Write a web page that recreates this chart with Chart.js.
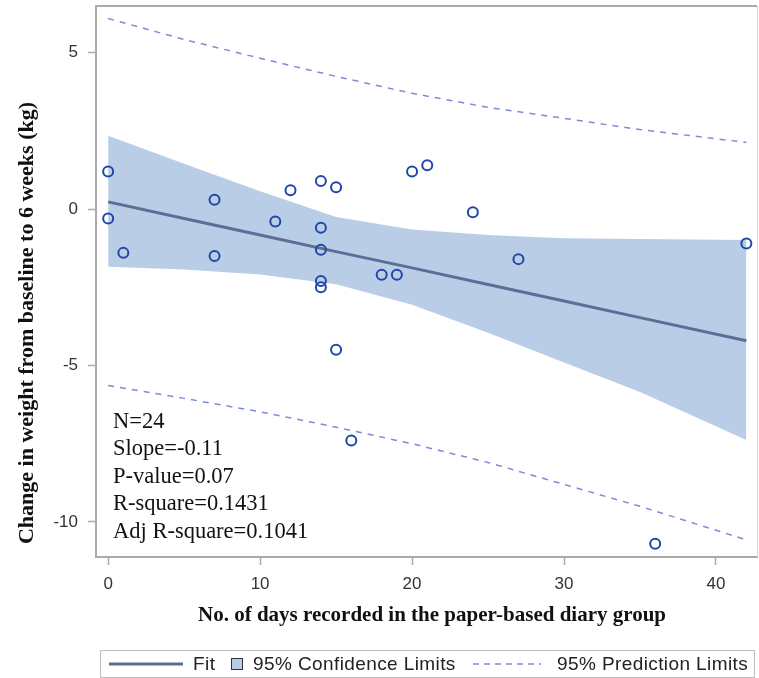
<!DOCTYPE html>
<html>
<head>
<meta charset="utf-8">
<script src="https://cdn.jsdelivr.net/npm/chart.js@4"></script>
<style>
  html, body { margin: 0; padding: 0; background: #fff; overflow: hidden; }
  canvas { display: block; }
</style>
</head>
<body>
<canvas id="myChart" width="759" height="678"></canvas>
<script>
// observed points
const days = [0, 0, 1, 7, 7, 11, 12, 14, 14, 14, 14, 14, 15, 15, 16, 18, 19, 20, 21, 24, 27, 36, 42];
const weightChange = [1.2, -0.3, -1.4, 0.3, -1.5, -0.4, 0.6, 0.9, -0.6, -1.3, -2.3, -2.5, 0.7, -4.5, -7.4, -2.1, -2.1, 1.2, 1.4, -0.1, -1.6, -10.7, -1.1];

// fit and limits
const curveX = [0, 5, 10, 15, 20, 25, 30, 35, 42];
const fitY = [0.23, -0.30, -0.83, -1.36, -1.88, -2.41, -2.94, -3.47, -4.21];
const clUpper = [2.34, 1.45, 0.57, -0.25, -0.65, -0.83, -0.93, -0.96, -0.99];
const clLower = [-1.84, -1.93, -2.09, -2.40, -3.06, -3.95, -4.90, -5.85, -7.38];
const plUpper = [6.09, 5.42, 4.82, 4.24, 3.70, 3.25, 2.90, 2.54, 2.13];
const plLower = [-5.64, -6.05, -6.48, -6.97, -7.50, -8.10, -8.80, -9.50, -10.57];

const xTicks = [0, 10, 20, 30, 40];
const yTicks = [-10, -5, 0, 5];

const statsText = ['N=24', 'Slope=-0.11', 'P-value=0.07', 'R-square=0.1431', 'Adj R-square=0.1041'];

const bandColor = 'rgb(185, 206, 230)';
const fitColor = 'rgb(92, 110, 150)';
const predColor = 'rgb(125, 140, 212)';
const markerColor = 'rgb(32, 70, 170)';

const pts = (xs, ys) => xs.map((x, i) => ({ x: x, y: ys[i] }));
const noPad = () => ({ left: 0, top: 0, right: 0, bottom: 0 });

const extras = {
    id: 'extras',
    afterDraw(chart) {
        const c = chart.ctx;
        const a = chart.chartArea;
        c.save();
        // frame top / right
        c.strokeStyle = 'rgb(170,170,170)';
        c.lineWidth = 2;
        c.beginPath();
        c.moveTo(a.left, a.top);
        c.lineTo(a.right, a.top);
        c.stroke();
        c.strokeStyle = 'rgb(215,215,215)';
        c.lineWidth = 1;
        c.beginPath();
        c.moveTo(a.right + 0.5, a.top);
        c.lineTo(a.right + 0.5, a.bottom);
        c.stroke();

        // stats text
        c.fillStyle = '#111';
        c.font = '22.5px "Liberation Serif", "Times New Roman", serif';
        c.textBaseline = 'middle';
        c.textAlign = 'left';
        statsText.forEach((t, i) => c.fillText(t, 113, 422 + i * 27.5));

        // axis titles
        c.font = 'bold 21px "Liberation Serif", "Times New Roman", serif';
        c.textAlign = 'center';
        c.fillText('No. of days recorded in the paper-based diary group', 432, 616);
        c.save();
        c.translate(27, 323);
        c.rotate(-Math.PI / 2);
        c.font = 'bold 22px "Liberation Serif", "Times New Roman", serif';
        c.fillText('Change in weight from baseline to 6 weeks (kg)', 0, 0);
        c.restore();

        // legend
        c.strokeStyle = 'rgb(190,190,190)';
        c.lineWidth = 1;
        c.strokeRect(100.5, 650.5, 654, 27);
        const ly = 664;
        c.strokeStyle = fitColor;
        c.lineWidth = 3;
        c.beginPath(); c.moveTo(109, ly); c.lineTo(183, ly); c.stroke();
        c.fillStyle = bandColor;
        c.fillRect(231, ly - 6, 12, 12);
        c.strokeStyle = '#333';
        c.lineWidth = 1;
        c.strokeRect(231.5, ly - 5.5, 11, 11);
        c.strokeStyle = predColor;
        c.lineWidth = 1.5;
        c.setLineDash([6, 5]);
        c.beginPath(); c.moveTo(473, ly); c.lineTo(541, ly); c.stroke();
        c.setLineDash([]);
        c.fillStyle = '#222';
        c.font = '19px "Liberation Sans", Arial, sans-serif';
        c.letterSpacing = '0.4px';
        c.textAlign = 'left';
        c.fillText('Fit', 193, ly + 1);
        c.fillText('95% Confidence Limits', 253, ly + 1);
        c.fillText('95% Prediction Limits', 557, ly + 1);
        c.restore();
    }
};

new Chart(document.getElementById('myChart'), {
    type: 'scatter',
    data: {
        datasets: [
            {
                label: 'Observed',
                data: pts(days, weightChange),
                pointStyle: 'circle',
                pointRadius: 5,
                pointBorderWidth: 2,
                pointBorderColor: markerColor,
                pointBackgroundColor: 'rgba(0,0,0,0)',
                order: 1
            },
            {
                label: 'Fit',
                data: pts(curveX, fitY),
                showLine: true,
                borderColor: fitColor,
                borderWidth: 3,
                pointRadius: 0,
                order: 2
            },
            {
                label: '95% Prediction Limits',
                data: pts(curveX, plUpper),
                showLine: true,
                borderColor: predColor,
                borderWidth: 1.5,
                borderDash: [6, 6],
                pointRadius: 0,
                order: 3
            },
            {
                label: 'Lower prediction',
                data: pts(curveX, plLower),
                showLine: true,
                borderColor: predColor,
                borderWidth: 1.5,
                borderDash: [6, 6],
                pointRadius: 0,
                order: 3
            },
            {
                label: '95% Confidence Limits',
                data: pts(curveX, clUpper),
                showLine: true,
                borderWidth: 0,
                borderColor: bandColor,
                backgroundColor: bandColor,
                fill: '+1',
                pointRadius: 0,
                order: 5
            },
            {
                label: 'Lower confidence',
                data: pts(curveX, clLower),
                showLine: true,
                borderWidth: 0,
                borderColor: bandColor,
                pointRadius: 0,
                fill: false,
                order: 5
            }
        ]
    },
    options: {
        responsive: false,
        animation: false,
        layout: {
            autoPadding: false,
            padding: { top: 6, right: 2, left: 0, bottom: 0 }
        },
        plugins: {
            legend: { display: false },
            tooltip: { enabled: false }
        },
        scales: {
            x: {
                type: 'linear',
                min: -0.8,
                max: 42.7,
                afterFit: (s) => {
                    s.height = 121;
                    s.paddingLeft = 0; s.paddingRight = 0;
                    s.getPadding = noPad;
                },
                afterBuildTicks: (s) => { s.ticks = xTicks.map(v => ({ value: v })); },
                border: { display: true, color: 'rgb(170,170,170)', width: 2 },
                grid: { drawOnChartArea: false, tickLength: 8, color: 'rgb(170,170,170)', tickWidth: 1.5 },
                ticks: {
                    padding: 9,
                    color: '#333',
                    font: { family: '"Liberation Sans", Arial, sans-serif', size: 17 }
                }
            },
            y: {
                type: 'linear',
                min: -11.12,
                max: 6.49,
                afterFit: (s) => {
                    s.width = 96;
                    s.paddingTop = 0; s.paddingBottom = 0;
                    s.getPadding = noPad;
                },
                afterBuildTicks: (s) => { s.ticks = yTicks.map(v => ({ value: v })); },
                border: { display: true, color: 'rgb(170,170,170)', width: 2 },
                grid: { drawOnChartArea: false, tickLength: 8, color: 'rgb(170,170,170)', tickWidth: 1.5 },
                ticks: {
                    padding: 10,
                    color: '#333',
                    font: { family: '"Liberation Sans", Arial, sans-serif', size: 17 }
                }
            }
        }
    },
    plugins: [extras]
});
</script>
</body>
</html>
